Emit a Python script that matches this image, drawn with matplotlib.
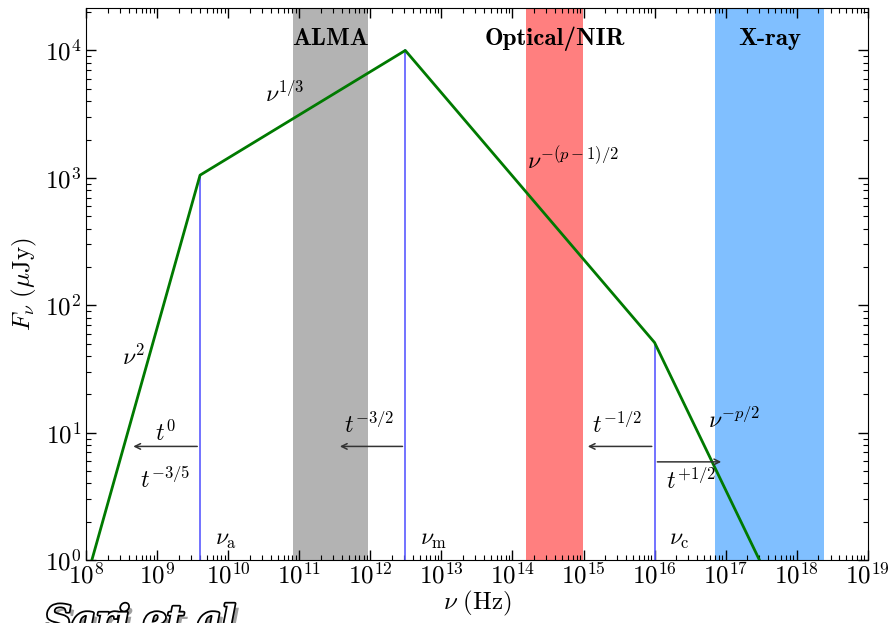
import matplotlib
matplotlib.use("Agg")
import matplotlib.pyplot as plt
import matplotlib.patheffects as pe
import numpy as np

plt.rcParams["mathtext.fontset"] = "cm"
plt.rcParams["font.family"] = ["cmr10", "DejaVu Serif"]
plt.rcParams["axes.formatter.use_mathtext"] = True

# broken power-law spectrum (break points)
nu_pts = [1.2e8, 4.0e9, 3.1e12, 1.0e16, 3.0e17]
flux_pts = [1.0, 1.05e3, 1.0e4, 51.0, 1.0]

# break frequencies and their labels
break_nu = [4.0e9, 3.1e12, 1.0e16]
break_flux = [1.05e3, 1.0e4, 51.0]
break_labels = [r"$\nu_{\rm a}$", r"$\nu_{\rm m}$", r"$\nu_{\rm c}$"]

# observing bands
band_names = ["ALMA", "Optical/NIR", "X-ray"]
band_lo = [8.1e10, 1.55e14, 7.2e16]
band_hi = [9.4e11, 9.8e14, 2.4e18]
band_colors = ["#b3b3b3", "#ff7f7f", "#80bfff"]

# time-evolution arrows: (start, end, height)
arrow_start = [4.0e9, 3.1e12, 1.0e16, 1.0e16]
arrow_end = [4.2e8, 3.4e11, 1.05e15, 9.5e16]
arrow_y = [7.8, 7.8, 7.8, 5.9]

fig = plt.figure(figsize=(8.89, 6.23), dpi=100)
ax = fig.add_axes([0.097, 0.101, 0.879, 0.886])
ax.set_xscale("log")
ax.set_yscale("log")
ax.set_xlim(1e8, 1e19)
ax.set_ylim(1, 2.15e4)

for lo, hi, c, name in zip(band_lo, band_hi, band_colors, band_names):
    ax.axvspan(lo, hi, color=c, lw=0, zorder=0)
    ax.text(np.sqrt(lo * hi), 1.24e4, name, ha="center", va="center",
            family="cmb10", fontsize=18, zorder=5)

for nu, f, lab in zip(break_nu, break_flux, break_labels):
    ax.plot([nu, nu], [1, f], color="#5a5aff", lw=1.2, zorder=2)
    ax.text(nu * 1.6, 1.45, lab, fontsize=17, ha="left", va="center")

ax.plot(nu_pts, flux_pts, color="#007a00", lw=2, zorder=3)

for x0, x1, y in zip(arrow_start, arrow_end, arrow_y):
    ax.annotate("", xy=(x1, y), xytext=(x0, y),
                arrowprops=dict(arrowstyle="->", color="#333333", lw=1.1))

txt = dict(fontsize=17, ha="center", va="center")
ax.text(1.3e9, 9.8, r"$t^{0}$", **txt)
ax.text(1.3e9, 4.3, r"$t^{-3/5}$", **txt)
ax.text(9.5e11, 11.5, r"$t^{-3/2}$", **txt)
ax.text(3.0e15, 11.5, r"$t^{-1/2}$", **txt)
ax.text(3.3e16, 4.2, r"$t^{+1/2}$", **txt)
ax.text(1.3e17, 12.5, r"$\nu^{-p/2}$", **txt)
ax.text(7.0e14, 1.35e3, r"$\nu^{-(p-1)/2}$", **txt)
ax.text(6.3e10, 4.6e3, r"$\nu^{1/3}$", **txt)
ax.text(4.6e8, 39.0, r"$\nu^{2}$", **txt)

ax.set_xticks([10.0 ** k for k in range(8, 20)])
ax.set_yticks([10.0 ** k for k in range(0, 5)])
ax.tick_params(which="both", direction="in", top=True, right=True, labelsize=18)
ax.tick_params(which="major", length=7, width=1)
ax.tick_params(which="minor", length=3.5, width=0.8)
ax.xaxis.set_minor_locator(matplotlib.ticker.LogLocator(base=10, subs=np.arange(2, 10), numticks=100))
ax.yaxis.set_minor_locator(matplotlib.ticker.LogLocator(base=10, subs=np.arange(2, 10), numticks=100))
ax.xaxis.set_minor_formatter(matplotlib.ticker.NullFormatter())
ax.yaxis.set_minor_formatter(matplotlib.ticker.NullFormatter())
ax.tick_params(axis="x", pad=2)
ax.set_xlabel(r"$\nu\ (\mathrm{Hz})$", fontsize=18, labelpad=0)
ax.set_ylabel(r"$F_\nu\ (\mu\mathrm{Jy})$", fontsize=18, labelpad=4)

fig.text(0.05, 0.032, "Sari et al", fontsize=27, style="italic", weight="bold",
         family="DejaVu Serif", color="white", va="top",
         path_effects=[pe.withSimplePatchShadow(offset=(3, -3), shadow_rgbFace="#888888", alpha=0.8),
                       pe.Stroke(linewidth=2.5, foreground="black"), pe.Normal()])

fig.savefig("out.png", dpi=100)
